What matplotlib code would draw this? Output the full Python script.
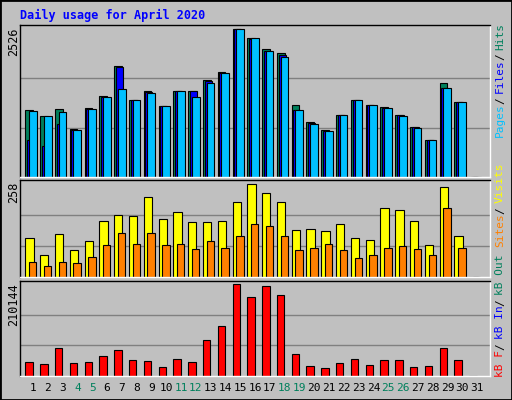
import matplotlib
matplotlib.use("Agg")
import matplotlib.pyplot as plt
import numpy as np

days = list(range(1, 32))
hits = [1137,1034,1154,812,1172,1377,1892,1309,1463,1206,1463,1463,1652,1789,2526,2372,2183,2115,1223,932,794,1052,1309,1223,1189,1052,846,640,1600,1274,0]
files = [640,526,897,794,1160,1360,1875,1309,1446,1206,1463,1463,1635,1772,2526,2354,2149,2080,1137,914,777,1052,1309,1223,1172,1052,846,640,1514,1274,0]
pages = [1120,1034,1103,794,1160,1360,1497,1309,1429,1206,1463,1360,1600,1772,2526,2372,2149,2046,1137,897,777,1052,1309,1223,1172,1034,829,623,1514,1274,0]
visits = [110,60,121,76,101,157,174,171,222,163,180,152,152,155,210,258,233,210,132,135,129,149,110,104,191,188,157,90,250,115,0]
sites = [43,32,43,40,57,90,124,93,124,90,93,79,99,82,113,149,141,113,74,82,93,76,54,62,82,85,79,60,191,82,0]
kbytes = [33000,28400,62900,30700,33000,46800,58300,37600,35300,21500,39900,33000,81300,113500,210144,180200,205500,184800,51400,23800,19200,30700,39900,26100,37600,37600,21500,23800,62900,37600,0]
weekend = [4,5,11,12,18,19,25,26]
title = "Daily usage for April 2020"

W, H = 512, 400
BG = "#C0C0C0"
fig = plt.figure(figsize=(W/100, H/100), dpi=100, facecolor=BG)
mono = "DejaVu Sans Mono"

def ax_px(x0, y0, x1, y1):
    a = fig.add_axes([x0/W, 1-y1/H, (x1-x0)/W, (y1-y0)/H])
    a.set_facecolor(BG)
    for s in a.spines.values():
        s.set_color("black"); s.set_linewidth(1)
    a.spines["right"].set_color("white"); a.spines["bottom"].set_color("white")
    a.set_xticks([]); a.set_yticks([])
    a.set_xlim(0.12, 31.88)
    return a

x = np.array(days, dtype=float)
kw = dict(edgecolor="black", linewidth=0.8, align="edge")

a1 = ax_px(20, 25, 490, 177)
m1 = max(hits); a1.set_ylim(0, m1*152/148)
for g in (m1/3, 2*m1/3): a1.axhline(g, color="#808080", lw=1, zorder=0)
a1.bar(x-0.52, hits, 0.52, color="#00805C", **kw)
a1.bar(x-0.41, files, 0.48, color="#0000FF", **kw)
a1.bar(x-0.27, pages, 0.52, color="#00C0FF", **kw)

a2 = ax_px(20, 180, 490, 277)
m2 = max(visits); a2.set_ylim(0, m2*96.7/92.3)
for g in (m2/3, 2*m2/3): a2.axhline(g, color="#808080", lw=1, zorder=0)
a2.bar(x-0.52, visits, 0.56, color="#FFFF00", **kw)
a2.bar(x-0.27, sites, 0.50, color="#FF8000", **kw)

a3 = ax_px(20, 281, 490, 376)
m3 = max(kbytes); a3.set_ylim(0, m3*94.3/91.3)
for g in (m3/3, 2*m3/3): a3.axhline(g, color="#808080", lw=1, zorder=0)
a3.bar(x-0.52, kbytes, 0.50, color="#FF0000", **kw)

for d in days:
    a3.text(d, -0.07, str(d), transform=a3.get_xaxis_transform(), ha="center", va="top",
            fontsize=8, family=mono, color="#00805C" if d in weekend else "black")

fig.text(20/W, 1-15/H, title, color="#0000FF", fontsize=8.5, family=mono, weight="bold", va="center")
for txt, ytop in ((str(m1), 27), (str(m2), 182), (str(m3), 283)):
    fig.text(14/W, 1-ytop/H, txt, rotation=90, ha="center", va="top", fontsize=8.5, family=mono)

def vlabel(parts, ybottom, xpx=500, step=5.6, gap=5):
    y = ybottom
    for i, (t, c) in enumerate(parts):
        fig.text(xpx/W, 1-y/H, t, rotation=90, ha="center", va="bottom", fontsize=8,
                 family=mono, color=c)
        y -= step*len(t) + gap

vlabel([("Pages", "#00C0FF"), ("/", "black"), ("Files", "#0000FF"), ("/", "black"), ("Hits", "#00805C")], 137)
vlabel([("Sites", "#FF8000"), ("/", "black"), ("Visits", "#FFFF00")], 247)
vlabel([("kB F", "#FF0000"), ("/", "black"), ("kB In", "#0000FF"), ("/", "black"), ("kB Out", "#00805C")], 377)

fig.patches.append(plt.Rectangle((0, 0), 1, 1, transform=fig.transFigure, fill=False,
                                 edgecolor="black", lw=2))
fig.savefig("out.png", dpi=100, facecolor=BG)
